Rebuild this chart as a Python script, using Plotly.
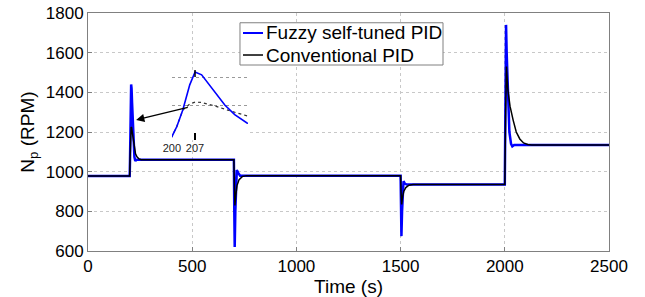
import plotly.graph_objects as go

# ---------------- data ----------------
t_fuzzy = [0, 200, 201.5, 203.3, 205.4, 207, 209, 211.4, 214, 216, 219, 222.7, 226, 230, 235,
           700, 702, 704, 707, 710, 714, 720, 730,
           1500, 1502, 1504, 1507, 1510, 1514, 1520, 1530,
           2000, 2003, 2006, 2009, 2015, 2022, 2030, 2036, 2045, 2500]
n_fuzzy = [978, 978, 1050, 1168, 1348, 1440, 1420, 1348, 1270, 1204, 1135, 1075, 1058, 1057, 1060,
           1060, 800, 620, 800, 960, 1008, 995, 980,
           980, 800, 675, 800, 930, 952, 940, 935,
           935, 1300, 1740, 1600, 1350, 1200, 1140, 1128, 1135, 1135]

t_conv = [0, 200, 201.5, 203.3, 205.4, 207, 209, 213, 217.7, 222.7, 228, 235, 245, 255,
          700, 702, 705, 709, 715, 725, 740, 760,
          1500, 1502, 1505, 1509, 1515, 1525, 1540, 1560,
          2000, 2004, 2008, 2014, 2025, 2040, 2055, 2072, 2090, 2110, 2130, 2500]
n_conv = [978, 978, 1050, 1168, 1211, 1225, 1222, 1197, 1161, 1118, 1090, 1075, 1064, 1060,
          1060, 950, 830, 880, 930, 960, 975, 980,
          980, 900, 835, 870, 900, 920, 932, 935,
          935, 1300, 1530, 1420, 1330, 1260, 1200, 1165, 1145, 1137, 1135, 1135]

series_names = ["Fuzzy self-tuned PID", "Conventional PID"]
series_colors = ["#0000ff", "#000000"]

x_ticks = [0, 500, 1000, 1500, 2000, 2500]
y_ticks = [600, 800, 1000, 1200, 1400, 1600, 1800]
inset_ticks = [200, 207]
inset_grid = [1200, 1400]
inset_xrange = [200, 223]
inset_yrange = [953, 1455]

FONT = "Arial, Liberation Sans, sans-serif"
GRID = "#c8c8c8"
AX = "#808080"
INSET_X = [0.161, 0.307]
INSET_Y = [0.466, 0.761]

fig = go.Figure()

# main traces
fig.add_trace(go.Scatter(x=t_fuzzy, y=n_fuzzy, mode="lines", name=series_names[0],
                         line=dict(color=series_colors[0], width=2.5), xaxis="x", yaxis="y",
                         showlegend=False))
fig.add_trace(go.Scatter(x=t_conv, y=n_conv, mode="lines", name=series_names[1],
                         line=dict(color=series_colors[1], width=1.5), xaxis="x", yaxis="y",
                         showlegend=False))

# white backing for the inset (separate subplot drawn between main and inset)
fig.add_trace(go.Scatter(x=[0, 1, 1, 0, 0], y=[0, 0, 1, 1, 0], mode="lines", fill="toself",
                         fillcolor="white", line=dict(width=0, color="white"),
                         showlegend=False, hoverinfo="skip", xaxis="x2", yaxis="y2"))

# inset traces
fig.add_trace(go.Scatter(x=t_conv, y=n_conv, mode="lines", showlegend=False,
                         line=dict(color="#333333", width=1.2, dash="dot"), xaxis="x3", yaxis="y3"))
fig.add_trace(go.Scatter(x=t_fuzzy, y=n_fuzzy, mode="lines", showlegend=False,
                         line=dict(color="#0000ff", width=1.6), xaxis="x3", yaxis="y3"))

axis_common = dict(showgrid=True, gridcolor=GRID, griddash="dot", gridwidth=1,
                   showline=True, linecolor=AX, linewidth=1, mirror=True,
                   ticks="inside", ticklen=4, tickcolor=AX, zeroline=False, automargin=False,
                   ticklabeloverflow="allow",
                   tickfont=dict(family=FONT, size=17, color="#000000"))
hidden = dict(visible=False, showgrid=False, zeroline=False, automargin=False, fixedrange=True)

fig.update_layout(
    width=645, height=297,
    margin=dict(l=88, r=36, t=13, b=46, autoexpand=False),
    paper_bgcolor="white", plot_bgcolor="white",
    font=dict(family=FONT, color="#000000"),
    xaxis=dict(range=[0, 2500], tickvals=x_ticks, domain=[0, 1],
               title=dict(text="Time (s)", font=dict(family=FONT, size=19), standoff=0),
               **axis_common),
    yaxis=dict(range=[600, 1800], tickvals=y_ticks, domain=[0, 1],
               title=dict(text="N<sub>p</sub> (RPM)", font=dict(family=FONT, size=19), standoff=6),
               **axis_common),
    xaxis2=dict(domain=INSET_X, anchor="y2", range=[0, 1], **hidden),
    yaxis2=dict(domain=INSET_Y, anchor="x2", range=[0, 1], **hidden),
    xaxis3=dict(domain=INSET_X, anchor="y3", range=inset_xrange, tickvals=inset_ticks,
                ticks="inside", ticklen=7, tickwidth=1.5, tickcolor="#000000",
                showgrid=False, showline=False, zeroline=False, automargin=False,
                tickfont=dict(family=FONT, size=11, color="#222222")),
    yaxis3=dict(domain=INSET_Y, anchor="x3", range=inset_yrange, tickvals=inset_grid,
                showticklabels=False, ticks="", showgrid=True, gridcolor="#9a9a9a",
                griddash="dot", showline=False, zeroline=False, automargin=False),
    showlegend=False,
)

# legend box (drawn as shapes + text to match the compact original legend)
LEG_X0, LEG_X1, LEG_Y0, LEG_Y1 = 0.2917, 0.6814, 0.7815, 0.959
row_y = [0.916, 0.8235]
line_widths = [2, 1.5]
fig.add_shape(type="rect", xref="paper", yref="paper", x0=LEG_X0, x1=LEG_X1, y0=LEG_Y0, y1=LEG_Y1,
              fillcolor="white", line=dict(color=AX, width=1), layer="above")
for name, col, ry, lw in zip(series_names, series_colors, row_y, line_widths):
    fig.add_shape(type="line", xref="paper", yref="paper", x0=0.2975, x1=0.3359, y0=ry, y1=ry,
                  line=dict(color=col, width=lw), layer="above")
    fig.add_annotation(xref="paper", yref="paper", x=0.3385, y=ry, text=name, showarrow=False,
                       xanchor="left", yanchor="middle",
                       font=dict(family=FONT, size=19, color="#000000"))

# top tick at 207 inside the inset
fig.add_shape(type="line", xref="x3", yref="y3 domain", x0=inset_ticks[1], x1=inset_ticks[1],
              y0=1.0, y1=0.9, line=dict(color="#000000", width=1.5))

# arrow pointing from inset to the main peak
fig.add_annotation(x=231, y=1261, ax=486, ay=1326, xref="x", yref="y", axref="x", ayref="y",
                   showarrow=True, arrowhead=2, arrowsize=1.1, arrowwidth=1.5,
                   arrowcolor="#000000", text="")

fig.write_html("out.html", config={"displayModeBar": False},
               post_script="document.body.style.margin='0';document.body.style.overflow='hidden';")
